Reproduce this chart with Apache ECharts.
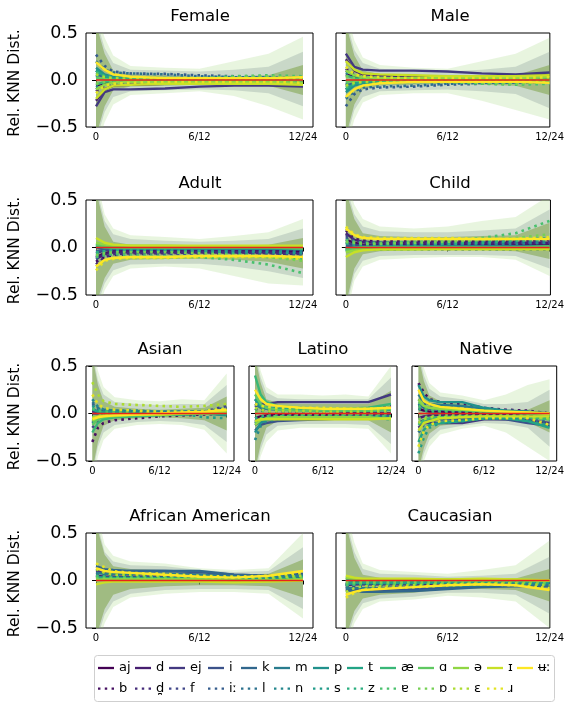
<!DOCTYPE html>
<html><head><meta charset="utf-8">
<script src="https://cdn.jsdelivr.net/npm/echarts@6/dist/echarts.min.js"></script>
<style>html,body{margin:0;padding:0;background:#fff}#c{width:567px;height:704px}</style>
</head><body><div id="c"></div>
<script>
// ---------------- data ----------------
const xPoints = [0, 1, 2, 4, 8, 12, 16, 20, 24];
const xTickValues = [0, 12, 24];
const xTickLabels = ['0', '6/12', '12/24'];
const phonemes = ['aj','b','d','d̪','ej','f','i','iː','k','l','m','n','p','s','t','z','æ','ɐ','ɑ','ɒ','ə','ɛ','ɪ','ɹ','ʉː'];
const panelTitles = ['Female','Male','Adult','Child','Asian','Latino','Native','African American','Caucasian'];
const yLabelText = 'Rel. KNN Dist.';
const refLineX = [0, 24];
const refLineY = [0, 0];

const femaleLines = [
[-0.06,-0.03,-0.02,-0.01,-0.01,-0.01,-0.01,-0.01,-0.02],
[-0.12,-0.06,-0.03,-0.02,-0.01,-0.01,-0.01,-0.01,-0.02],
[-0.22,-0.1,-0.06,-0.05,-0.04,-0.04,-0.04,-0.04,-0.05],
[0.05,0.02,0.01,0.01,0.0,0.0,0.0,0.0,0.0],
[-0.28,-0.13,-0.1,-0.1,-0.09,-0.07,-0.06,-0.06,-0.07],
[-0.1,-0.05,-0.03,-0.02,-0.02,-0.01,-0.01,-0.01,-0.02],
[0.1,0.05,0.03,0.02,0.01,0.01,0.0,0.0,0.01],
[0.27,0.15,0.09,0.07,0.065,0.05,0.04,0.03,0.03],
[0.06,0.03,0.02,0.01,0.01,0.0,0.0,0.0,0.0],
[0.2,0.11,0.08,0.07,0.06,0.04,0.03,0.03,0.02],
[0.1,0.05,0.03,0.02,0.01,0.01,0.01,0.01,0.01],
[-0.08,-0.04,-0.02,-0.01,-0.01,0.0,0.0,0.0,0.0],
[0.13,0.06,0.03,0.02,0.01,0.01,0.01,0.01,0.0],
[0.06,0.03,0.02,0.01,0.01,0.01,0.0,0.0,0.0],
[0.1,0.04,0.02,0.01,0.01,0.0,0.0,0.0,0.0],
[0.04,0.02,0.01,0.01,0.0,0.01,0.02,0.03,0.02],
[-0.05,-0.02,-0.01,0.0,0.0,0.0,0.0,0.0,0.0],
[0.08,0.04,0.03,0.02,0.02,0.02,0.04,0.05,0.04],
[0.02,0.01,0.0,0.0,0.0,0.0,0.0,0.0,0.0],
[-0.04,-0.02,-0.01,0.0,0.0,0.01,0.03,0.04,0.02],
[-0.1,-0.05,-0.03,-0.02,-0.02,-0.02,-0.02,-0.02,-0.03],
[0.06,0.03,0.02,0.01,0.01,0.01,0.01,0.01,0.01],
[-0.2,-0.1,-0.06,-0.05,-0.04,-0.04,-0.04,-0.04,-0.05],
[-0.14,-0.06,-0.04,-0.03,-0.02,-0.02,-0.02,-0.02,-0.03],
[0.19,0.11,0.06,0.035,0.02,0.02,0.02,0.02,0.03]
];
const maleLines = [
[0.06,0.03,0.02,0.01,0.01,0.01,0.01,0.01,0.02],
[0.12,0.06,0.03,0.02,0.01,0.01,0.01,0.01,0.02],
[0.22,0.1,0.06,0.05,0.04,0.04,0.04,0.04,0.05],
[-0.05,-0.02,-0.01,-0.01,0.0,0.0,0.0,0.0,0.0],
[0.28,0.14,0.11,0.1,0.1,0.09,0.07,0.06,0.08],
[0.1,0.05,0.03,0.02,0.02,0.01,0.01,0.01,0.02],
[-0.1,-0.05,-0.03,-0.02,-0.01,-0.01,0.0,0.0,-0.01],
[-0.28,-0.15,-0.1,-0.08,-0.07,-0.05,-0.04,-0.03,-0.03],
[-0.06,-0.03,-0.02,-0.01,-0.01,0.0,0.0,0.0,0.0],
[-0.2,-0.12,-0.08,-0.07,-0.06,-0.04,-0.03,-0.03,-0.02],
[-0.1,-0.05,-0.03,-0.02,-0.01,-0.01,-0.01,-0.01,-0.01],
[0.08,0.04,0.02,0.01,0.01,0.0,0.0,0.0,0.0],
[-0.13,-0.06,-0.03,-0.02,-0.01,-0.01,-0.01,-0.01,0.0],
[-0.06,-0.03,-0.02,-0.01,-0.01,-0.01,0.0,0.0,0.0],
[-0.1,-0.04,-0.02,-0.01,-0.01,0.0,0.0,0.0,0.0],
[-0.04,-0.02,-0.01,-0.01,0.0,-0.01,-0.02,-0.03,-0.02],
[0.05,0.02,0.01,0.0,0.0,0.0,0.0,0.0,0.0],
[-0.08,-0.04,-0.03,-0.02,-0.02,-0.02,-0.04,-0.05,-0.04],
[-0.02,-0.01,0.0,0.0,0.0,0.0,0.0,0.0,0.0],
[0.04,0.02,0.01,0.0,0.0,-0.01,-0.03,-0.04,-0.02],
[0.1,0.05,0.03,0.02,0.02,0.02,0.02,0.02,0.03],
[-0.06,-0.03,-0.02,-0.01,-0.01,-0.01,-0.01,-0.01,-0.01],
[0.2,0.11,0.07,0.06,0.05,0.04,0.04,0.04,0.05],
[0.14,0.06,0.04,0.03,0.02,0.02,0.02,0.02,0.03],
[-0.18,-0.1,-0.06,-0.035,-0.02,-0.02,-0.02,-0.02,-0.03]
];
const adultLines = [
[-0.1,-0.06,-0.04,-0.03,-0.03,-0.03,-0.03,-0.03,-0.04],
[-0.15,-0.1,-0.08,-0.07,-0.06,-0.06,-0.06,-0.06,-0.07],
[-0.12,-0.07,-0.05,-0.05,-0.05,-0.05,-0.05,-0.05,-0.06],
[-0.18,-0.1,-0.07,-0.06,-0.06,-0.05,-0.05,-0.06,-0.07],
[-0.06,-0.03,-0.02,-0.02,-0.02,-0.02,-0.02,-0.02,-0.02],
[-0.1,-0.06,-0.05,-0.04,-0.04,-0.04,-0.04,-0.05,-0.06],
[-0.04,-0.02,-0.01,-0.01,-0.01,-0.01,-0.01,-0.01,-0.01],
[-0.12,-0.08,-0.07,-0.07,-0.07,-0.06,-0.06,-0.07,-0.08],
[0.0,-0.01,-0.01,-0.01,-0.01,-0.01,-0.01,-0.01,-0.01],
[-0.08,-0.05,-0.04,-0.04,-0.03,-0.03,-0.03,-0.04,-0.05],
[0.02,0.0,-0.01,-0.01,-0.01,-0.01,-0.01,-0.01,-0.01],
[-0.05,-0.04,-0.03,-0.03,-0.03,-0.03,-0.03,-0.03,-0.04],
[0.04,0.01,0.0,-0.01,-0.01,-0.01,-0.01,-0.01,-0.02],
[-0.06,-0.04,-0.03,-0.03,-0.03,-0.03,-0.04,-0.05,-0.06],
[0.03,0.01,0.0,0.0,0.0,0.0,0.0,0.0,-0.01],
[-0.05,-0.04,-0.03,-0.03,-0.03,-0.04,-0.06,-0.1,-0.12],
[0.02,0.0,0.0,0.0,0.0,0.0,0.0,0.0,0.0],
[-0.1,-0.08,-0.07,-0.08,-0.09,-0.1,-0.13,-0.18,-0.27],
[0.03,0.01,0.0,0.0,0.0,0.0,0.0,0.0,-0.01],
[-0.08,-0.06,-0.05,-0.05,-0.05,-0.06,-0.08,-0.1,-0.14],
[0.05,0.03,0.02,0.02,0.02,0.01,0.01,0.01,0.01],
[-0.2,-0.13,-0.11,-0.11,-0.11,-0.1,-0.1,-0.1,-0.11],
[0.1,0.05,0.03,0.02,0.02,0.02,0.02,0.02,0.02],
[-0.24,-0.14,-0.12,-0.11,-0.11,-0.1,-0.1,-0.1,-0.12],
[-0.2,-0.13,-0.11,-0.1,-0.1,-0.09,-0.09,-0.09,-0.1]
];
const childLines = [
[0.08,0.05,0.03,0.03,0.03,0.03,0.03,0.03,0.03],
[0.18,0.1,0.08,0.07,0.07,0.07,0.07,0.07,0.08],
[0.15,0.08,0.06,0.05,0.05,0.05,0.05,0.05,0.05],
[0.14,0.08,0.06,0.05,0.05,0.05,0.05,0.06,0.06],
[0.05,0.03,0.02,0.02,0.02,0.02,0.02,0.02,0.02],
[0.12,0.07,0.05,0.04,0.04,0.04,0.04,0.05,0.05],
[0.02,0.01,0.01,0.01,0.01,0.01,0.01,0.01,0.01],
[0.1,0.06,0.05,0.05,0.05,0.05,0.05,0.06,0.07],
[0.0,0.0,0.0,0.0,0.0,0.0,0.0,0.0,0.0],
[-0.02,-0.02,-0.02,-0.02,-0.02,-0.02,-0.02,-0.02,-0.02],
[-0.02,0.0,0.0,0.0,0.0,0.0,0.0,0.0,0.0],
[0.06,0.04,0.03,0.03,0.03,0.03,0.03,0.04,0.05],
[-0.04,-0.01,0.0,0.01,0.01,0.01,0.01,0.01,0.01],
[0.04,0.03,0.03,0.03,0.03,0.04,0.06,0.08,0.1],
[-0.03,-0.01,0.0,0.0,0.0,0.0,0.0,0.0,0.01],
[0.05,0.04,0.03,0.03,0.03,0.04,0.05,0.07,0.08],
[-0.02,0.0,0.0,0.0,0.0,0.0,0.0,0.0,0.0],
[0.08,0.06,0.05,0.05,0.06,0.07,0.1,0.15,0.28],
[-0.03,-0.01,0.0,0.0,0.0,0.0,0.0,0.0,0.01],
[0.06,0.05,0.04,0.04,0.05,0.06,0.08,0.1,0.14],
[-0.05,-0.03,-0.02,-0.02,-0.02,-0.01,-0.01,-0.01,-0.01],
[0.2,0.12,0.1,0.1,0.09,0.09,0.09,0.09,0.1],
[-0.1,-0.05,-0.03,-0.02,-0.02,-0.02,-0.02,-0.02,-0.02],
[0.22,0.14,0.11,0.1,0.1,0.1,0.09,0.09,0.11],
[0.2,0.13,0.1,0.09,0.09,0.09,0.09,0.09,0.09]
];
const asianLines = [
[0.03,0.02,0.02,0.01,0.01,0.0,0.0,0.0,0.0],
[-0.3,-0.15,-0.1,-0.07,-0.05,-0.03,-0.02,-0.01,0.0],
[0.02,0.02,0.02,0.01,0.01,0.0,0.0,0.0,0.0],
[-0.1,-0.05,-0.03,-0.02,-0.01,0.0,0.0,0.02,0.05],
[0.0,0.0,0.0,0.0,0.0,0.0,0.0,0.0,0.0],
[-0.15,-0.08,-0.05,-0.03,-0.02,-0.01,0.0,0.02,0.08],
[-0.05,-0.03,-0.02,-0.01,-0.01,0.0,0.0,0.0,0.01],
[0.1,0.05,0.03,0.02,0.02,0.01,0.01,0.02,0.06],
[-0.08,-0.04,-0.03,-0.02,-0.02,-0.01,-0.01,0.0,0.0],
[0.12,0.06,0.04,0.03,0.02,0.02,0.02,0.02,0.03],
[0.05,0.02,0.01,0.01,0.0,0.0,0.0,0.0,0.0],
[0.15,0.07,0.04,0.03,0.03,0.02,0.02,0.02,0.02],
[-0.1,-0.05,-0.03,-0.02,-0.01,-0.01,0.0,0.0,-0.02],
[0.08,0.04,0.03,0.02,0.02,0.01,0.0,-0.04,-0.05],
[0.04,0.02,0.01,0.01,0.0,0.0,0.0,0.0,0.0],
[-0.06,-0.03,-0.02,-0.01,-0.01,0.0,0.0,0.0,0.01],
[-0.2,-0.1,-0.06,-0.04,-0.03,-0.02,-0.01,0.0,0.0],
[0.05,0.03,0.02,0.02,0.02,0.02,0.02,0.03,0.05],
[-0.12,-0.06,-0.04,-0.03,-0.02,-0.01,0.0,0.01,0.02],
[-0.04,-0.02,-0.01,0.0,0.0,0.0,0.0,0.0,0.02],
[-0.08,-0.04,-0.03,-0.02,-0.01,-0.01,0.0,0.0,0.01],
[0.33,0.2,0.13,0.1,0.09,0.08,0.07,0.08,0.1],
[-0.05,-0.03,-0.02,-0.02,-0.01,-0.01,0.0,0.01,0.03],
[0.2,0.1,0.06,0.04,0.03,0.02,0.02,0.03,0.05],
[-0.06,-0.04,-0.03,-0.02,-0.01,0.0,0.01,0.02,0.04]
];
const latinoLines = [
[-0.05,-0.03,-0.02,-0.01,-0.01,-0.01,0.0,0.0,0.0],
[0.05,0.03,0.02,0.02,0.02,0.02,0.02,0.02,0.03],
[-0.1,-0.06,-0.04,-0.03,-0.03,-0.03,-0.03,-0.03,-0.02],
[0.08,0.05,0.04,0.04,0.04,0.04,0.04,0.05,0.08],
[0.1,0.1,0.1,0.12,0.12,0.12,0.12,0.12,0.2],
[-0.08,-0.05,-0.04,-0.04,-0.04,-0.04,-0.04,-0.03,-0.03],
[-0.18,-0.12,-0.1,-0.08,-0.07,-0.06,-0.05,-0.04,-0.02],
[0.1,0.07,0.05,0.05,0.04,0.04,0.04,0.04,0.05],
[-0.12,-0.08,-0.06,-0.05,-0.05,-0.05,-0.04,-0.04,-0.03],
[0.15,0.08,0.06,0.05,0.04,0.04,0.04,0.04,0.06],
[0.1,0.06,0.05,0.04,0.04,0.03,0.03,0.03,0.04],
[-0.28,-0.13,-0.08,-0.06,-0.05,-0.05,-0.05,-0.05,-0.06],
[-0.2,-0.1,-0.07,-0.05,-0.04,-0.04,-0.04,-0.04,-0.05],
[0.05,0.03,0.02,0.02,0.02,0.01,0.01,0.01,0.02],
[0.15,0.08,0.06,0.05,0.04,0.03,0.03,0.03,0.04],
[-0.05,-0.03,-0.02,-0.02,-0.02,-0.02,-0.02,-0.02,-0.03],
[0.4,0.2,0.12,0.08,0.06,0.05,0.05,0.06,0.1],
[-0.1,-0.05,-0.03,-0.03,-0.02,-0.02,-0.02,-0.02,-0.03],
[0.2,0.1,0.06,0.04,0.03,0.03,0.03,0.03,0.05],
[0.02,0.01,0.01,0.01,0.0,0.0,0.0,0.0,0.0],
[-0.12,-0.07,-0.05,-0.04,-0.04,-0.04,-0.04,-0.04,-0.06],
[0.06,0.04,0.03,0.03,0.03,0.02,0.02,0.02,0.03],
[-0.08,-0.06,-0.06,-0.06,-0.06,-0.06,-0.06,-0.06,-0.05],
[0.1,0.08,0.07,0.06,0.06,0.06,0.05,0.05,0.06],
[0.25,0.15,0.1,0.08,0.06,0.05,0.05,0.05,0.06]
];
const nativeLines = [
[0.05,0.03,0.02,0.02,0.01,0.01,0.01,0.0,0.0],
[0.32,0.22,0.15,0.12,0.1,0.06,0.04,0.03,0.0],
[-0.05,-0.03,-0.02,-0.02,-0.01,-0.01,-0.01,-0.01,-0.02],
[0.1,0.06,0.04,0.03,0.02,0.01,0.01,0.0,-0.02],
[-0.15,-0.1,-0.1,-0.1,-0.1,-0.06,-0.06,-0.07,-0.1],
[0.08,0.05,0.04,0.04,0.03,0.02,0.01,0.01,0.0],
[-0.1,-0.07,-0.06,-0.06,-0.06,-0.05,-0.06,-0.1,-0.13],
[0.15,0.1,0.08,0.07,0.06,0.04,0.03,0.02,0.0],
[0.1,0.06,0.05,0.04,0.03,0.02,0.01,0.0,-0.02],
[-0.2,-0.12,-0.08,-0.06,-0.05,-0.04,-0.04,-0.05,-0.08],
[0.2,0.12,0.1,0.09,0.08,0.05,0.03,0.02,0.0],
[0.1,0.07,0.06,0.05,0.04,0.03,0.02,0.01,0.0],
[0.3,0.18,0.14,0.12,0.12,0.06,0.03,0.02,-0.05],
[-0.42,-0.25,-0.15,-0.1,-0.08,-0.05,-0.05,-0.08,-0.12],
[-0.3,-0.17,-0.12,-0.1,-0.08,-0.05,-0.05,-0.08,-0.15],
[0.05,0.03,0.02,0.02,0.01,0.0,0.0,0.0,-0.02],
[-0.12,-0.07,-0.05,-0.04,-0.03,-0.03,-0.03,-0.04,-0.06],
[0.08,0.05,0.04,0.03,0.02,0.01,0.0,-0.02,-0.05],
[0.12,0.08,0.06,0.05,0.04,0.02,0.01,0.0,-0.02],
[-0.06,-0.04,-0.03,-0.02,-0.02,-0.02,-0.02,-0.03,-0.06],
[0.15,0.08,0.06,0.05,0.04,0.03,0.02,0.01,0.0],
[-0.1,-0.06,-0.04,-0.04,-0.03,-0.03,-0.03,-0.04,-0.05],
[-0.18,-0.1,-0.08,-0.05,-0.04,-0.03,-0.03,-0.03,-0.03],
[-0.35,-0.18,-0.12,-0.08,-0.07,-0.05,-0.05,-0.05,-0.12],
[0.25,0.13,0.1,0.07,0.05,0.03,0.02,0.01,0.0]
];
const africanAmericanLines = [
[0.03,0.02,0.02,0.02,0.02,0.01,0.01,0.01,0.02],
[0.06,0.05,0.04,0.04,0.04,0.03,0.02,0.02,0.04],
[0.05,0.04,0.04,0.04,0.04,0.04,0.03,0.03,0.04],
[0.08,0.06,0.05,0.05,0.05,0.04,0.03,0.03,0.05],
[0.1,0.08,0.07,0.07,0.07,0.06,0.04,0.03,0.05],
[0.04,0.03,0.03,0.03,0.03,0.03,0.02,0.02,0.03],
[0.12,0.1,0.09,0.1,0.1,0.09,0.06,0.05,0.07],
[0.06,0.05,0.05,0.05,0.05,0.04,0.04,0.03,0.04],
[0.15,0.12,0.11,0.1,0.1,0.1,0.06,0.05,0.06],
[0.05,0.04,0.04,0.04,0.04,0.04,0.03,0.03,0.03],
[0.08,0.07,0.07,0.07,0.07,0.06,0.04,0.03,0.05],
[0.05,0.04,0.04,0.04,0.04,0.04,0.04,0.03,0.04],
[0.04,0.03,0.03,0.03,0.03,0.02,0.01,0.01,0.02],
[0.03,0.03,0.03,0.04,0.04,0.04,0.03,0.03,0.04],
[0.02,0.02,0.02,0.02,0.02,0.02,0.01,0.01,0.02],
[0.04,0.04,0.04,0.04,0.04,0.03,0.03,0.02,0.03],
[0.02,0.02,0.02,0.02,0.02,0.01,0.01,0.0,0.01],
[0.05,0.04,0.03,0.03,0.03,0.03,0.02,0.02,0.03],
[0.01,0.01,0.01,0.01,0.01,0.01,0.0,0.0,0.01],
[0.02,0.02,0.02,0.02,0.02,0.02,0.01,0.01,0.02],
[0.0,0.01,0.01,0.01,0.01,0.01,0.0,0.0,0.01],
[0.12,0.08,0.06,0.06,0.05,0.04,0.03,0.03,0.05],
[-0.04,-0.02,-0.01,-0.01,-0.01,-0.01,-0.02,-0.01,0.0],
[0.18,0.14,0.1,0.08,0.07,0.05,0.04,0.05,0.08],
[0.13,0.1,0.09,0.08,0.06,0.04,0.03,0.05,0.1]
];
const caucasianLines = [
[-0.03,-0.02,-0.02,-0.02,-0.02,-0.01,-0.01,-0.01,-0.01],
[-0.06,-0.05,-0.04,-0.04,-0.04,-0.03,-0.02,-0.02,-0.03],
[-0.05,-0.04,-0.04,-0.04,-0.04,-0.04,-0.03,-0.03,-0.03],
[-0.08,-0.06,-0.05,-0.05,-0.05,-0.04,-0.03,-0.03,-0.04],
[-0.08,-0.08,-0.08,-0.08,-0.07,-0.06,-0.05,-0.04,-0.04],
[-0.04,-0.03,-0.03,-0.03,-0.03,-0.03,-0.02,-0.02,-0.03],
[-0.1,-0.1,-0.1,-0.1,-0.09,-0.08,-0.06,-0.05,-0.05],
[-0.06,-0.05,-0.05,-0.05,-0.05,-0.04,-0.04,-0.03,-0.04],
[-0.1,-0.11,-0.12,-0.12,-0.11,-0.09,-0.07,-0.06,-0.06],
[-0.05,-0.04,-0.04,-0.04,-0.04,-0.04,-0.03,-0.03,-0.03],
[-0.08,-0.08,-0.08,-0.08,-0.07,-0.06,-0.05,-0.04,-0.04],
[-0.05,-0.04,-0.04,-0.04,-0.04,-0.04,-0.04,-0.03,-0.04],
[-0.04,-0.03,-0.03,-0.03,-0.03,-0.02,-0.02,-0.01,-0.02],
[-0.04,-0.04,-0.04,-0.04,-0.04,-0.04,-0.03,-0.03,-0.04],
[-0.02,-0.02,-0.02,-0.02,-0.02,-0.02,-0.01,-0.01,-0.02],
[-0.04,-0.04,-0.04,-0.04,-0.04,-0.03,-0.03,-0.02,-0.03],
[0.02,0.01,0.0,0.0,0.0,0.0,0.0,0.0,0.0],
[-0.05,-0.04,-0.03,-0.03,-0.03,-0.03,-0.02,-0.02,-0.03],
[0.03,0.02,0.01,0.01,0.01,0.0,0.0,0.0,0.0],
[-0.02,-0.02,-0.02,-0.02,-0.02,-0.02,-0.01,-0.01,-0.02],
[0.03,0.02,0.01,0.01,0.01,0.01,0.01,0.01,0.0],
[-0.12,-0.08,-0.06,-0.06,-0.05,-0.04,-0.03,-0.03,-0.05],
[0.05,0.03,0.02,0.02,0.02,0.01,0.02,0.01,0.0],
[-0.18,-0.13,-0.1,-0.08,-0.07,-0.05,-0.04,-0.05,-0.08],
[-0.15,-0.12,-0.1,-0.09,-0.07,-0.05,-0.04,-0.05,-0.1]
];

// shaded spread envelopes: [outerHi, outerLo, midHi, midLo, coreHi, coreLo]
const femaleBands = [
[0.75,0.45,0.26,0.15,0.13,0.12,0.2,0.28,0.46],
[-0.75,-0.45,-0.26,-0.16,-0.14,-0.12,-0.17,-0.28,-0.42],
[0.65,0.34,0.18,0.11,0.1,0.09,0.11,0.14,0.3],
[-0.65,-0.34,-0.18,-0.12,-0.11,-0.1,-0.11,-0.14,-0.28],
[0.6,0.28,0.1,0.06,0.05,0.04,0.04,0.05,0.16],
[-0.6,-0.28,-0.11,-0.07,-0.06,-0.05,-0.05,-0.06,-0.16]
];
const maleBands = [
[0.75,0.42,0.24,0.16,0.13,0.12,0.2,0.28,0.45],
[-0.75,-0.42,-0.24,-0.16,-0.14,-0.14,-0.22,-0.32,-0.42],
[0.65,0.32,0.18,0.12,0.1,0.09,0.11,0.14,0.3],
[-0.65,-0.32,-0.18,-0.12,-0.11,-0.1,-0.12,-0.15,-0.3],
[0.6,0.26,0.1,0.06,0.05,0.04,0.04,0.05,0.16],
[-0.6,-0.26,-0.1,-0.06,-0.05,-0.04,-0.05,-0.06,-0.16]
];
const adultBands = [
[0.75,0.35,0.2,0.13,0.11,0.09,0.12,0.16,0.3],
[-0.75,-0.45,-0.3,-0.22,-0.2,-0.22,-0.3,-0.38,-0.4],
[0.65,0.28,0.14,0.09,0.07,0.06,0.07,0.09,0.2],
[-0.65,-0.38,-0.24,-0.18,-0.17,-0.17,-0.2,-0.25,-0.32],
[0.6,0.22,0.06,0.03,0.02,0.02,0.02,0.03,0.1],
[-0.6,-0.32,-0.17,-0.13,-0.12,-0.12,-0.13,-0.15,-0.22]
];
const childBands = [
[0.75,0.45,0.3,0.22,0.2,0.22,0.28,0.32,0.55],
[-0.75,-0.35,-0.2,-0.13,-0.11,-0.1,-0.1,-0.13,-0.3],
[0.65,0.35,0.22,0.17,0.16,0.16,0.18,0.2,0.4],
[-0.65,-0.28,-0.14,-0.09,-0.08,-0.08,-0.08,-0.09,-0.22],
[0.6,0.3,0.15,0.12,0.11,0.11,0.12,0.13,0.26],
[-0.6,-0.22,-0.07,-0.04,-0.03,-0.03,-0.03,-0.04,-0.12]
];
const asianBands = [
[0.75,0.45,0.28,0.17,0.14,0.13,0.15,0.14,0.42],
[-0.75,-0.45,-0.28,-0.16,-0.12,-0.11,-0.12,-0.17,-0.42],
[0.65,0.35,0.2,0.12,0.1,0.09,0.1,0.1,0.3],
[-0.65,-0.35,-0.2,-0.12,-0.09,-0.08,-0.09,-0.12,-0.3],
[0.6,0.3,0.13,0.07,0.05,0.04,0.05,0.06,0.18],
[-0.6,-0.3,-0.13,-0.07,-0.05,-0.04,-0.05,-0.07,-0.18]
];
const latinoBands = [
[0.75,0.45,0.28,0.2,0.2,0.19,0.2,0.18,0.5],
[-0.75,-0.45,-0.3,-0.18,-0.15,-0.15,-0.15,-0.16,-0.42],
[0.65,0.38,0.22,0.16,0.15,0.15,0.15,0.15,0.38],
[-0.65,-0.38,-0.22,-0.13,-0.11,-0.11,-0.11,-0.12,-0.32],
[0.6,0.32,0.15,0.11,0.1,0.1,0.1,0.1,0.24],
[-0.6,-0.32,-0.15,-0.08,-0.07,-0.07,-0.07,-0.07,-0.2]
];
const nativeBands = [
[0.75,0.48,0.32,0.22,0.19,0.14,0.2,0.3,0.36],
[-0.75,-0.5,-0.35,-0.22,-0.16,-0.13,-0.2,-0.35,-0.5],
[0.65,0.4,0.26,0.18,0.15,0.1,0.1,0.12,0.25],
[-0.65,-0.42,-0.28,-0.17,-0.13,-0.1,-0.11,-0.15,-0.35],
[0.6,0.34,0.19,0.13,0.11,0.06,0.04,0.04,0.14],
[-0.6,-0.36,-0.21,-0.13,-0.1,-0.07,-0.07,-0.09,-0.2]
];
const africanAmericanBands = [
[0.75,0.38,0.26,0.2,0.18,0.13,0.11,0.13,0.5],
[-0.75,-0.45,-0.28,-0.18,-0.14,-0.12,-0.12,-0.14,-0.4],
[0.65,0.3,0.2,0.16,0.15,0.11,0.09,0.1,0.35],
[-0.65,-0.36,-0.22,-0.14,-0.1,-0.09,-0.09,-0.1,-0.3],
[0.6,0.27,0.15,0.12,0.11,0.08,0.06,0.07,0.22],
[-0.6,-0.3,-0.15,-0.09,-0.06,-0.05,-0.05,-0.06,-0.18]
];
const caucasianBands = [
[0.75,0.4,0.18,0.11,0.09,0.07,0.11,0.16,0.42],
[-0.75,-0.45,-0.3,-0.22,-0.2,-0.16,-0.18,-0.22,-0.5],
[0.65,0.3,0.12,0.07,0.06,0.04,0.05,0.07,0.25],
[-0.65,-0.38,-0.24,-0.19,-0.17,-0.13,-0.13,-0.15,-0.35],
[0.6,0.24,0.06,0.03,0.02,0.01,0.01,0.02,0.12],
[-0.6,-0.32,-0.19,-0.15,-0.13,-0.09,-0.09,-0.1,-0.22]
];

// ---------------- layout & style ----------------
const panelLines = [femaleLines, maleLines, adultLines, childLines, asianLines, latinoLines, nativeLines, africanAmericanLines, caucasianLines];
const panelBands = [femaleBands, maleBands, adultBands, childBands, asianBands, latinoBands, nativeBands, africanAmericanBands, caucasianBands];
const layout = [
  {left:86,  top:33,  width:227, height:94, xmin:-1.16, xmax:25.16, ylab:true,  tx:200},
  {left:336, top:33,  width:217, height:94, xmin:-1.16, xmax:24.03, ylab:false, tx:450},
  {left:86,  top:200, width:227, height:95, xmin:-1.16, xmax:25.16, ylab:true,  tx:200},
  {left:336, top:200, width:218, height:95, xmin:-1.16, xmax:24.1,  ylab:false, tx:450},
  {left:86,  top:366, width:148, height:95, xmin:-1.13, xmax:25.3,  ylab:true,  tx:160},
  {left:249, top:366, width:148, height:95, xmin:-1.06, xmax:25.06, ylab:false, tx:323},
  {left:412, top:366, width:148, height:95, xmin:-1.18, xmax:25.3,  ylab:false, tx:486},
  {left:86,  top:533, width:227, height:95, xmin:-1.16, xmax:25.16, ylab:true,  tx:200},
  {left:336, top:533, width:217, height:95, xmin:-1.16, xmax:24.03, ylab:false, tx:450}
];
const FONT = 'DejaVu Sans';
const bandColors = ['rgba(160,212,120,0.24)', 'rgba(130,150,150,0.30)', 'rgba(115,155,55,0.48)'];
const viridisStops = ['#440154','#482475','#414487','#355f8d','#2a788e','#21918c','#22a884','#44bf70','#7ad151','#bddf26','#fde725'];
function hex2rgb(h){return [1,3,5].map(i=>parseInt(h.substr(i,2),16));}
function viridis(t){
  const p = t*10, i = Math.min(9, Math.floor(p)), f = p - i;
  const a = hex2rgb(viridisStops[i]), b = hex2rgb(viridisStops[i+1]);
  return 'rgb(' + a.map((v,k)=>Math.round(v+(b[k]-v)*f)).join(',') + ')';
}
const phColors = phonemes.map((_,i)=>viridis(i/(phonemes.length-1)));
const solidIcon = 'path://M0,0h16v2.3h-16z';
const dottedIcon = 'path://M0,0h2.4v2.4h-2.4zM6.7,0h2.4v2.4h-2.4zM13.4,0h2.4v2.4h-2.4z';

const grids = [], xAxes = [], yAxes = [], series = [], graphics = [];
layout.forEach((L, k) => {
  grids.push({left:L.left, top:L.top, width:L.width, height:L.height, show:true, borderColor:'#000', borderWidth:1, backgroundColor:'transparent'});
  xAxes.push({type:'value', gridIndex:k, min:L.xmin, max:L.xmax,
    axisLine:{show:false}, splitLine:{show:false},
    axisTick:{show:true, customValues:xTickValues, length:4, lineStyle:{color:'#000', width:1}},
    axisLabel:{show:true, customValues:xTickValues, formatter:v=>xTickLabels[xTickValues.indexOf(v)], fontSize:10, fontFamily:FONT, color:'#000', margin:5}});
  yAxes.push({type:'value', gridIndex:k, min:-0.5, max:0.5, interval:0.5,
    axisLine:{show:false}, splitLine:{show:false},
    axisTick:{show:true, length:4, lineStyle:{color:'#000', width:1}},
    axisLabel:{show:L.ylab, formatter:v=>v.toFixed(1).replace('-','\u2212'), fontSize:17.5, fontFamily:FONT, color:'#000', margin:8}});
  graphics.push({type:'text', x:L.tx, y:L.top-16, style:{text:panelTitles[k], font:'16.5px "DejaVu Sans"', fill:'#000', align:'center', verticalAlign:'middle'}});
  if (L.ylab) {
    graphics.push({type:'text', x:15, y:L.top+L.height/2+3, rotation:Math.PI/2, style:{text:yLabelText, font:'15.5px "DejaVu Sans"', fill:'#000', align:'center', verticalAlign:'middle'}});
  }
  const B = panelBands[k];
  for (let layer = 0; layer < 3; layer++) {
    const hi = B[layer*2], lo = B[layer*2+1];
    series.push({type:'custom', xAxisIndex:k, yAxisIndex:k, clip:true, silent:true, z:1,
      data: xPoints.map((x,i)=>[x, lo[i], hi[i]]),
      renderItem: (params, api) => {
        if (params.dataIndex !== 0) return null;
        const pts = [];
        for (let i = 0; i < xPoints.length; i++) pts.push(api.coord([xPoints[i], hi[i]]));
        for (let i = xPoints.length-1; i >= 0; i--) pts.push(api.coord([xPoints[i], lo[i]]));
        return {type:'polygon', shape:{points:pts}, style:{fill:bandColors[layer]}};
      }});
  }
});
layout.forEach((L, k) => {
  panelLines[k].forEach((vals, j) => {
    const dotted = j % 2 === 1;
    series.push({type:'line', name:phonemes[j], xAxisIndex:k, yAxisIndex:k, z:2, silent:true,
      symbol:'none', showSymbol:false, smooth:false,
      data: xPoints.map((x,i)=>[x, vals[i]]),
      itemStyle:{color:phColors[j]},
      lineStyle:{color:phColors[j], width:dotted?2.6:2.4, type:dotted?[2.6,4.2]:'solid', cap:'butt'}});
  });
});
layout.forEach((L, k) => {
  series.push({type:'line', name:'ref', xAxisIndex:k, yAxisIndex:k, z:3, silent:true, symbol:'none',
    data: refLineX.map((x,i)=>[x, refLineY[i]]), lineStyle:{color:'#e8231b', width:1.4}});
});

graphics.push({type:'rect', z:0, shape:{x:94.5, y:655.5, width:460, height:46, r:3}, style:{fill:'#fff', stroke:'#cfcfcf', lineWidth:1}});
const legendCols = [98, 135, 169, 208, 241, 274, 313, 347, 380, 418, 453, 487, 517];
const legends = legendCols.map((x, c) => ({
  orient:'vertical', left:x, top:661, padding:0, itemGap:6.6, itemWidth:16, itemHeight:14,
  selectedMode:false,
  data: phonemes.slice(c*2, c*2+2).map((n, r) => ({name:n, icon: r === 0 ? solidIcon : dottedIcon, itemStyle:{color:phColors[c*2+r]}})),
  textStyle:{fontSize:13, fontFamily:FONT, color:'#000', lineHeight:14}
}));

const chart = echarts.init(document.getElementById('c'), null, {renderer:'canvas'});
chart.setOption({
  animation:false, backgroundColor:'#fff',
  grid:grids, xAxis:xAxes, yAxis:yAxes, series:series, graphic:graphics, legend:legends
});
</script></body></html>
